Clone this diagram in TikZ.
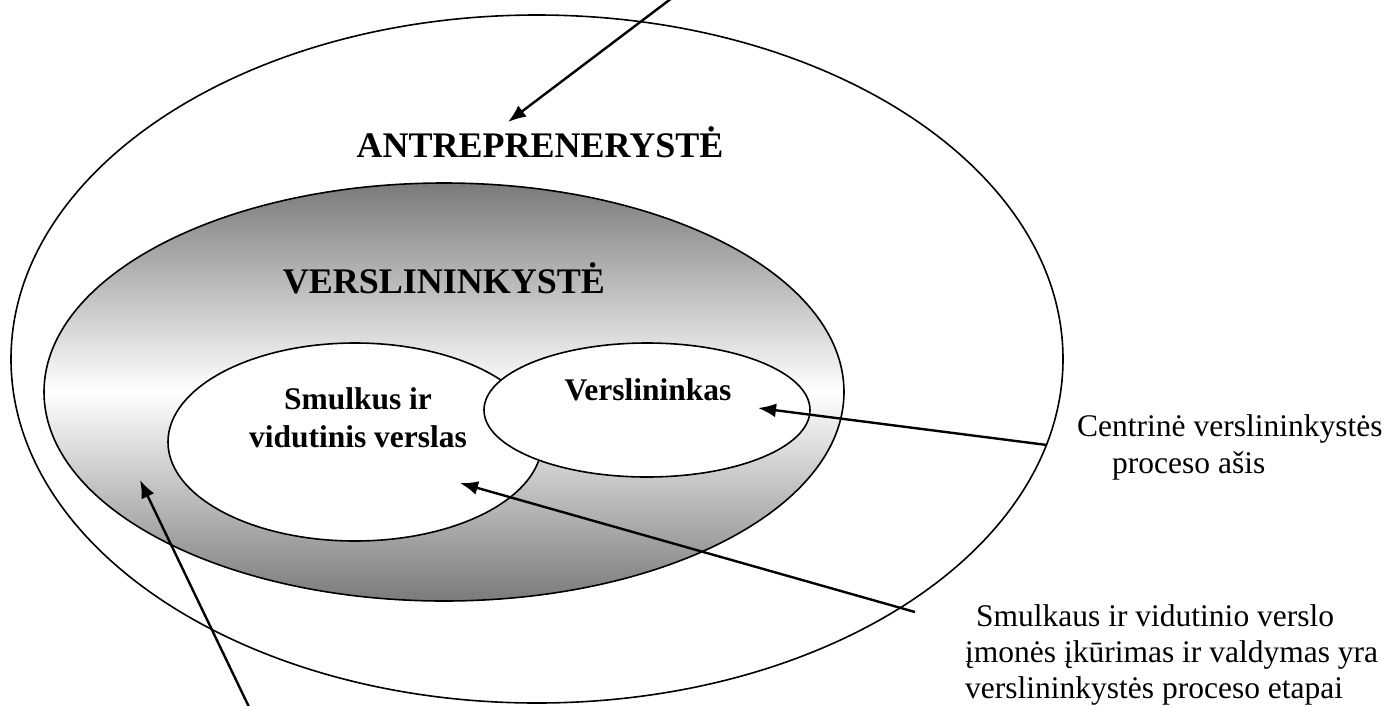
\documentclass[tikz,border=0pt]{standalone}
\usepackage{fontspec}
\setmainfont{Liberation Serif}
\usetikzlibrary{shapes.geometric,arrows.meta}
\begin{document}
\begin{tikzpicture}[x=1pt,y=-1pt,
  ell/.style={ellipse, draw, line width=1.6pt, inner sep=0pt, outer sep=0pt},
  arr/.style={-{Latex[length=18pt,width=14pt]}, line width=2.4pt},
  bigtxt/.style={font=\bfseries\fontsize{36}{40}\selectfont, inner sep=0pt, anchor=base},
  midtxt/.style={font=\bfseries\fontsize{31.5}{38}\selectfont, inner sep=0pt, align=center},
  note/.style={font=\fontsize{31.5}{36}\selectfont, inner sep=0pt, anchor=base west},
]
\useasboundingbox (0,0) rectangle (1385,705);
\node[ell, minimum width=1052pt, minimum height=688pt] (outer) at (537,359) {};
\node[ell, minimum width=800pt, minimum height=418pt, top color=black!52, bottom color=black!52, middle color=white] (gray) at (444,392) {};
\node[ell, fill=white, minimum width=374pt, minimum height=198pt] (smv) at (355,442) {};
\node[ell, fill=white, minimum width=326pt, minimum height=134pt] (vers) at (647,410) {};
\node[bigtxt] (antr) at (540,157) {ANTREPRENERYSTĖ};
\node[bigtxt] (vrs) at (444,293) {VERSLININKYSTĖ};
\node[midtxt] (smvt) at (358,418) {Smulkus ir\\vidutinis verslas};
\node[midtxt, anchor=base] (verst) at (648,400) {Verslininkas};
\node[note] (cent1) at (1077,436) {Centrinė verslininkystės};
\node[note] (cent2) at (1112,473) {proceso ašis};
\node[note] (et1) at (976,626) {Smulkaus ir vidutinio verslo};
\node[note] (et2) at (965,662) {įmonės įkūrimas ir valdymas yra};
\node[note] (et3) at (965,698) {verslininkystės proceso etapai};
\coordinate (t1) at (672,-2);
\coordinate (h1) at (508,122);
\coordinate (t2) at (1047,445);
\coordinate (h2) at (758,408);
\coordinate (t3) at (915,612);
\coordinate (h3) at (460,483);
\coordinate (t4) at (249,707);
\coordinate (h4) at (140,480);
\draw[arr] (t1) -- (h1);
\draw[arr] (t2) -- (h2);
\draw[arr] (t3) -- (h3);
\draw[arr] (t4) -- (h4);
\end{tikzpicture}
\end{document}
